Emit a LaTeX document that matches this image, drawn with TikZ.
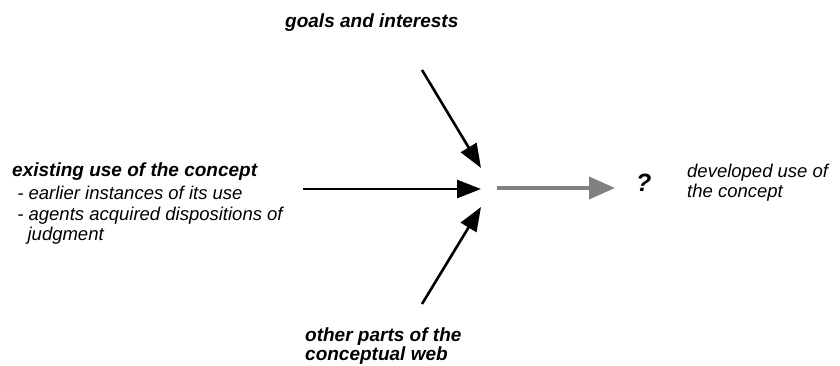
\documentclass[tikz,border=0pt]{standalone}
\usepackage{fontspec}
\setmainfont{Liberation Sans}
\usepackage{tikz}
\usetikzlibrary{arrows.meta}

\definecolor{flowgray}{RGB}{128,128,128}

\begin{document}
\begin{tikzpicture}[x=1pt,y=-1pt]
\useasboundingbox (0,0) rectangle (840,366);

% texts (base anchor = baseline of the last line)
\begin{scope}[every node/.style={inner sep=0pt,anchor=base west,align=left,
              font=\fontsize{18.5}{20}\selectfont\itshape}]
    \node (goals) at (285,28) {\bfseries\fontsize{19}{20}\selectfont goals and interests};
    \node (existing) at (12,240) {\bfseries\fontsize{19}{20}\selectfont existing use of the concept\\[3pt]
        \ - earlier instances of its use\\
        \ - agents acquired dispositions of\\
        \ \ \ judgment};
    \node (other) at (305,360) {\bfseries\fontsize{19}{20}\selectfont other parts of the\\[-1pt]
        \bfseries\fontsize{19}{20}\selectfont conceptual web};
    \node (question) at (636,192) {\bfseries\fontsize{25}{20}\selectfont ?};
    \node (developed) at (687,197) {developed use of\\the concept};
\end{scope}

% arrow ends
\coordinate (topstart) at (422,70);
\coordinate (toptip) at (481,168);
\coordinate (midstart) at (303,189);
\coordinate (midtip) at (481,189);
\coordinate (botstart) at (422,304);
\coordinate (bottip) at (481,207);
\coordinate (outstart) at (497,188);
\coordinate (outtip) at (615,188);

\begin{scope}[>={Triangle[length=24pt,width=18pt]},
              every edge/.style={draw=black,line width=2.6pt}]
    \path [->] (topstart) edge (toptip);
    \path [->] (midstart) edge (midtip);
    \path [->] (botstart) edge (bottip);
    \path [->] (outstart) edge[draw=flowgray,line width=4pt,
        >={Triangle[length=26pt,width=22pt]}] (outtip);
\end{scope}
\end{tikzpicture}
\end{document}
